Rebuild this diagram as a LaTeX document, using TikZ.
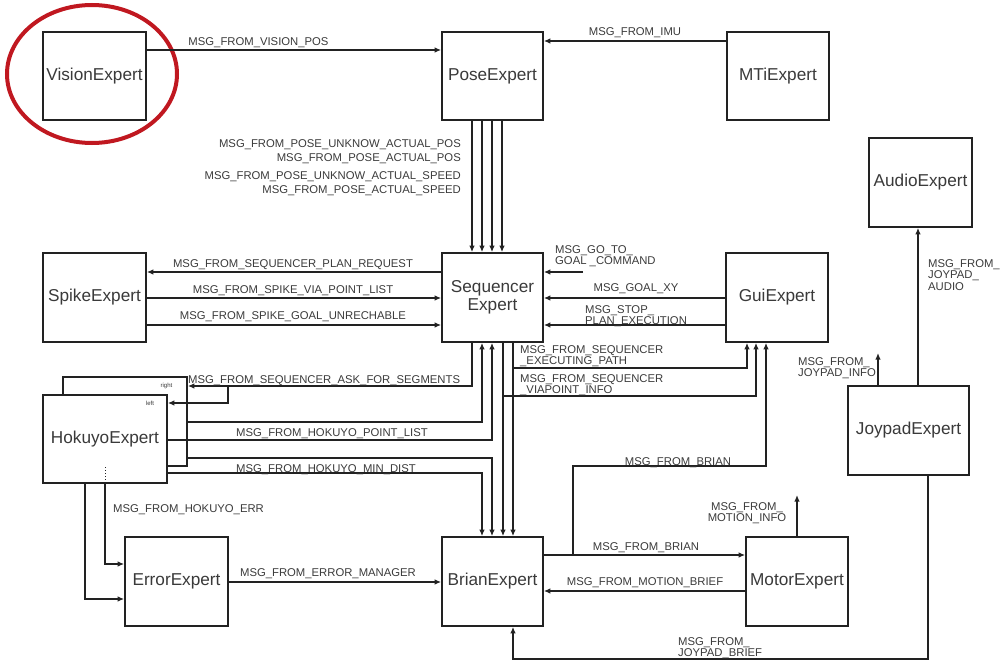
\documentclass[tikz,border=0pt]{standalone}
\usepackage{fontspec}
\setmainfont{Liberation Sans}
\usetikzlibrary{arrows.meta,calc}
\definecolor{ink}{HTML}{222222}
\definecolor{txt}{HTML}{3A3A3A}
\definecolor{ring}{HTML}{C01820}
\begin{document}
\begin{tikzpicture}[x=1pt,y=-1pt,
  box/.style={draw=ink, line width=1.7pt, fill=white, inner sep=0pt, align=center, text=txt, font=\fontsize{17.2}{18.5}\selectfont},
  lbl/.style={text=txt, inner sep=0pt, anchor=base, font=\fontsize{11.3}{11.5}\selectfont},
  ml/.style={lbl, align=left, anchor=north west},
  tiny/.style={text=txt, inner sep=0pt, anchor=base, font=\fontsize{6}{7}\selectfont},
  wire/.style={draw=ink, line width=1.6pt},
  arr/.style={wire, -{Latex[length=6.5pt,width=5.5pt]}},
]
\useasboundingbox (0,0) rectangle (1005,661);

% boxes
\node[box, minimum width=103pt, minimum height=88pt] (vision) at (94.5,76) {VisionExpert};
\node[box, minimum width=101pt, minimum height=88pt] (pose) at (492.5,76) {PoseExpert};
\node[box, minimum width=102pt, minimum height=88pt] (mti) at (778,76) {MTiExpert};
\node[box, minimum width=103pt, minimum height=89pt] (audio) at (920.5,182.5) {AudioExpert};
\node[box, minimum width=103pt, minimum height=89pt] (spike) at (94.5,297.5) {SpikeExpert};
\node[box, minimum width=101pt, minimum height=89pt] (seq) at (492.5,297.5) {Sequencer\\Expert};
\node[box, minimum width=102pt, minimum height=89pt] (gui) at (777,297.5) {GuiExpert};
\node[box, minimum width=121pt, minimum height=89pt] (joy) at (908.5,430.5) {JoypadExpert};
\node[box, minimum width=124pt, minimum height=89pt] (hokback) at (125,421.5) {};
\node[tiny] (rightlbl) at (166.5,387) {right};
\node[box, minimum width=124pt, minimum height=88pt] (hok) at (105,439) {HokuyoExpert};
\node[tiny] (leftlbl) at (150,405) {left};
\node[box, minimum width=103pt, minimum height=89pt] (error) at (176.5,581.5) {ErrorExpert};
\node[box, minimum width=101pt, minimum height=89pt] (brian) at (492.5,581.5) {BrianExpert};
\node[box, minimum width=102pt, minimum height=89pt] (motor) at (797,581.5) {MotorExpert};

% red ring
\draw[ring, line width=4pt] (92,74) ellipse [x radius=85pt, y radius=69pt];

% free ends
\coordinate (goto) at (583,272);
\coordinate (seg) at (228,386);
\coordinate (bm) at (573,555);
\coordinate (mi) at (797,495);
\coordinate (ji) at (878,353);

% connectors
\draw[arr] (vision.east |- 0,50) -- (pose.west |- 0,50);
\draw[arr] (mti.west |- 0,41) -- (pose.east |- 0,41);
\foreach \x in {472,482,492,502} \draw[arr] (pose.south -| \x,0) -- (seq.north -| \x,0);
\draw[arr] (seq.west |- 0,272) -- (spike.east |- 0,272);
\draw[arr] (spike.east |- 0,298) -- (seq.west |- 0,298);
\draw[arr] (spike.east |- 0,325) -- (seq.west |- 0,325);
\draw[arr] (goto) -- (seq.east |- goto);
\draw[arr] (gui.west |- 0,298) -- (seq.east |- 0,298);
\draw[arr] (gui.west |- 0,325) -- (seq.east |- 0,325);
\draw[arr] (seq.south -| 503,0) -- (brian.north -| 503,0);
\draw[arr] (seq.south -| 513,0) -- (brian.north -| 513,0);
\draw[arr] (seq.south -| 513,0) |- (747,368) -- (gui.south -| 747,0);
\draw[arr] (seq.south -| 503,0) |- (756,396) -- (gui.south -| 756,0);
\draw[arr] (seq.south -| 472,0) |- (hokback.east |- 0,386);
\draw[arr] (seg) |- (hok.east |- 0,403);
\draw[arr] (hokback.east |- 0,422) -| (seq.south -| 482,0);
\draw[arr] (hok.east |- 0,440) -| (seq.south -| 492,0);
\draw[arr] (hokback.east |- 0,458) -| (brian.north -| 492,0);
\draw[arr] (hok.east |- 0,473) -| (brian.north -| 482,0);
\draw[draw=ink, line width=1pt, dotted] (105,467) -- (hok.south -| 105,0);
\draw[arr] (hok.south -| 105,0) |- (error.west |- 0,564);
\draw[arr] (hok.south -| 85,0) |- (error.west |- 0,599);
\draw[arr] (error.east |- 0,582) -- (brian.west |- 0,582);
\draw[arr] (brian.east |- 0,555) -- (motor.west |- 0,555);
\draw[arr] (motor.west |- 0,591) -- (brian.east |- 0,591);
\draw[arr] (bm) |- (766,466) -- (gui.south -| 766,0);
\draw[arr] (motor.north) -- (mi);
\draw[arr] (joy.north -| 878,0) -- (ji);
\draw[arr] (joy.north -| 918,0) -- (audio.south -| 918,0);
\draw[arr] (joy.south -| 928,0) |- (513,659) -- (brian.south -| 513,0);

% labels
\node[lbl] at (258.5,46) {MSG\_FROM\_VISION\_POS};
\node[lbl] at (635,36) {MSG\_FROM\_IMU};
\node[lbl, anchor=base east] at (461,147) {MSG\_FROM\_POSE\_UNKNOW\_ACTUAL\_POS};
\node[lbl, anchor=base east] at (461,161) {MSG\_FROM\_POSE\_ACTUAL\_POS};
\node[lbl, anchor=base east] at (461,179) {MSG\_FROM\_POSE\_UNKNOW\_ACTUAL\_SPEED};
\node[lbl, anchor=base east] at (461,193) {MSG\_FROM\_POSE\_ACTUAL\_SPEED};
\node[lbl] at (293,267) {MSG\_FROM\_SEQUENCER\_PLAN\_REQUEST};
\node[lbl] at (293,293) {MSG\_FROM\_SPIKE\_VIA\_POINT\_LIST};
\node[lbl] at (293,319) {MSG\_FROM\_SPIKE\_GOAL\_UNRECHABLE};
\node[ml] at (555,245) {MSG\_GO\_TO\_\\GOAL \_COMMAND};
\node[lbl] at (636,291) {MSG\_GOAL\_XY};
\node[ml] at (585,305) {MSG\_STOP\_\\PLAN\_EXECUTION};
\node[ml] at (520,345) {MSG\_FROM\_SEQUENCER\\\_EXECUTING\_PATH};
\node[ml] at (520,374) {MSG\_FROM\_SEQUENCER\\\_VIAPOINT\_INFO};
\node[lbl, anchor=base west] at (188,383) {MSG\_FROM\_SEQUENCER\_ASK\_FOR\_SEGMENTS};
\node[lbl] at (332,436) {MSG\_FROM\_HOKUYO\_POINT\_LIST};
\node[lbl] at (326,472) {MSG\_FROM\_HOKUYO\_MIN\_DIST};
\node[lbl, anchor=base west] at (113,512) {MSG\_FROM\_HOKUYO\_ERR};
\node[lbl] at (328,576) {MSG\_FROM\_ERROR\_MANAGER};
\node[lbl] at (646,550) {MSG\_FROM\_BRIAN};
\node[lbl] at (645,585) {MSG\_FROM\_MOTION\_BRIEF};
\node[lbl] at (678,465) {MSG\_FROM\_BRIAN};
\node[ml, align=center, anchor=north] at (747,502) {MSG\_FROM\_\\MOTION\_INFO};
\node[ml] at (798,357) {MSG\_FROM\_\\JOYPAD\_INFO};
\node[ml] at (928,259) {MSG\_FROM\_\\JOYPAD\_\\AUDIO};
\node[ml] at (678,637) {MSG\_FROM\_\\JOYPAD\_BRIEF};
\end{tikzpicture}
\end{document}
